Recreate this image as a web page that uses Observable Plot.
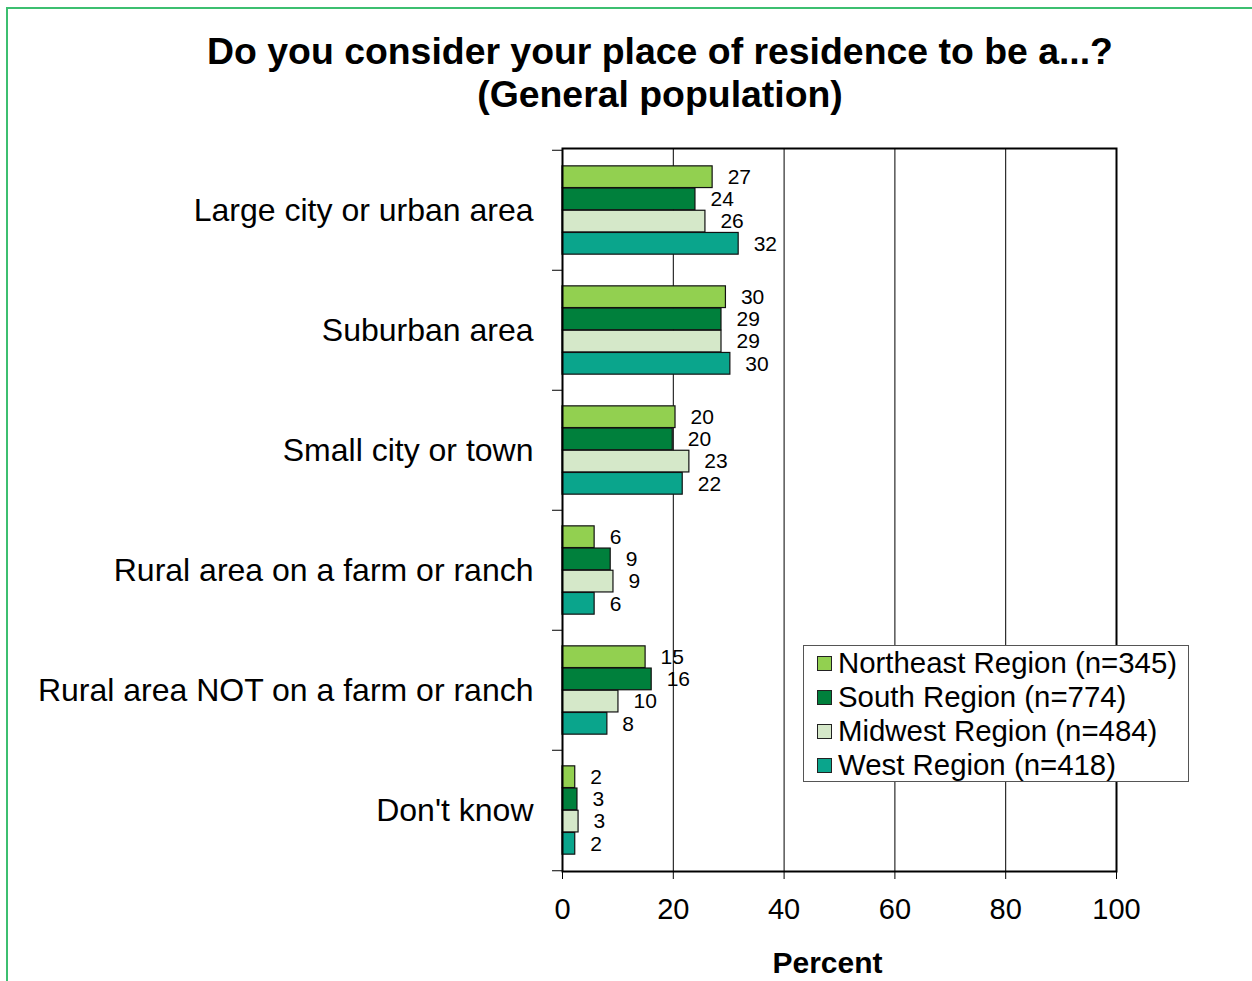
<!DOCTYPE html>
<html>
<head>
<meta charset="utf-8">
<script src="https://cdn.jsdelivr.net/npm/d3@7"></script>
<script src="https://cdn.jsdelivr.net/npm/@observablehq/plot@0.6"></script>
<style>
  body { margin: 0; background: #fff; overflow: hidden; font-family: Arial, "Liberation Sans", sans-serif; }
  #wrap { position: relative; width: 1252px; height: 981px; overflow: hidden; background: #fff; }
  #border { position: absolute; left: 6px; top: 7px; width: 1400px; height: 1200px; border: 2px solid #3cbf70; box-sizing: border-box; }
  #title { position: absolute; left: 0; top: 30px; width: 1320px; text-align: center; font-weight: bold; font-size: 37.4px; line-height: 43px; color: #000; }
  #chart { position: absolute; left: 0; top: 125px; }
  #legend { position: absolute; left: 803px; top: 645px; width: 386px; height: 137px; border: 1px solid #555; background: #fff; box-sizing: border-box; padding-left: 13px; }
  .row { height: 34px; line-height: 34px; font-size: 29.4px; white-space: nowrap; display: flex; align-items: center; }
  .sw { width: 13px; height: 13px; border: 1px solid #222; margin-right: 6px; flex: none; }
</style>
</head>
<body>
<div id="wrap">
  <div id="border"></div>
  <div id="title">Do you consider your place of residence to be a...?<br>(General population)</div>
  <div id="chart"></div>
  <div id="legend"></div>
</div>
<script>
// ---- data (percent; labels are the rounded values) ----
const categories = [
  "Large city or urban area",
  "Suburban area",
  "Small city or town",
  "Rural area on a farm or ranch",
  "Rural area NOT on a farm or ranch",
  "Don't know"
];
const regions = ["Northeast Region (n=345)", "South Region (n=774)", "Midwest Region (n=484)", "West Region (n=418)"];
const northeast = [27.1, 29.5, 20.4, 5.8, 15.0, 2.3];
const south     = [24.0, 28.7, 19.9, 8.7, 16.1, 2.7];
const midwest   = [25.8, 28.7, 22.9, 9.2, 10.1, 2.9];
const west      = [31.8, 30.3, 21.7, 5.8, 8.1, 2.3];
const xTicks = [0, 20, 40, 60, 80, 100];

// ---- styling ----
const colors = ["#92d050", "#00803c", "#d5e8c9", "#0aa58c"];
const series = [northeast, south, midwest, west];

const width = 1252, height = 856;
const marginTop = 23, marginBottom = 110, marginLeft = 562, marginRight = 136;
const band = (height - marginTop - marginBottom) / categories.length;
const barH = 22.2, outer = (band - barH * 4) / 2;

const marks = [
  Plot.gridX({ticks: [20, 40, 60, 80], stroke: "#000", strokeOpacity: 1, strokeWidth: 1}),
];
series.forEach((vals, j) => {
  const rows = categories.map((c, i) => ({category: c, value: vals[i]}));
  const top = outer + barH * j;
  const bottom = band - top - barH;
  marks.push(Plot.barX(rows, {
    x: "value", y: "category",
    fill: colors[j], stroke: "#111", strokeWidth: 1.2,
    insetTop: top, insetBottom: bottom
  }));
  marks.push(Plot.text(rows, {
    x: "value", y: "category", text: d => String(Math.round(d.value)),
    dx: 15, dy: top + barH / 2 - band / 2,
    textAnchor: "start", fontSize: 21, fill: "#000"
  }));
});
marks.push(
  Plot.ruleY(categories, {y: d => d, dy: -band / 2, x1: -1.8, x2: 0, stroke: "#000", strokeWidth: 1}),
  Plot.ruleY([categories[categories.length - 1]], {y: d => d, dy: band / 2, x1: -1.8, x2: 0, stroke: "#000", strokeWidth: 1}),
  Plot.frame({stroke: "#000", strokeWidth: 2}),
  Plot.axisY({tickSize: 0, tickPadding: 29, fontSize: 32, label: null}),
  Plot.axisX({ticks: xTicks, tickSize: 8, tickPadding: 19, fontSize: 29, label: null, stroke: "#000"}),
  Plot.text(["Percent"], {frameAnchor: "bottom", dy: 101, dx: -12, text: d => d, fontWeight: "bold", fontSize: 30, fill: "#000"})
);

const chart = Plot.plot({
  width, height, marginTop, marginBottom, marginLeft, marginRight,
  style: {fontFamily: "Arial, 'Liberation Sans', sans-serif", background: "transparent", color: "#000", overflow: "visible"},
  x: {domain: [0, 100], label: null},
  y: {domain: categories, padding: 0, label: null},
  marks
});
document.getElementById("chart").appendChild(chart);

// legend
const legend = document.getElementById("legend");
regions.forEach((r, j) => {
  const row = document.createElement("div");
  row.className = "row";
  const sw = document.createElement("span");
  sw.className = "sw";
  sw.style.background = colors[j];
  const t = document.createElement("span");
  t.textContent = r;
  row.appendChild(sw); row.appendChild(t);
  legend.appendChild(row);
});
</script>
</body>
</html>
